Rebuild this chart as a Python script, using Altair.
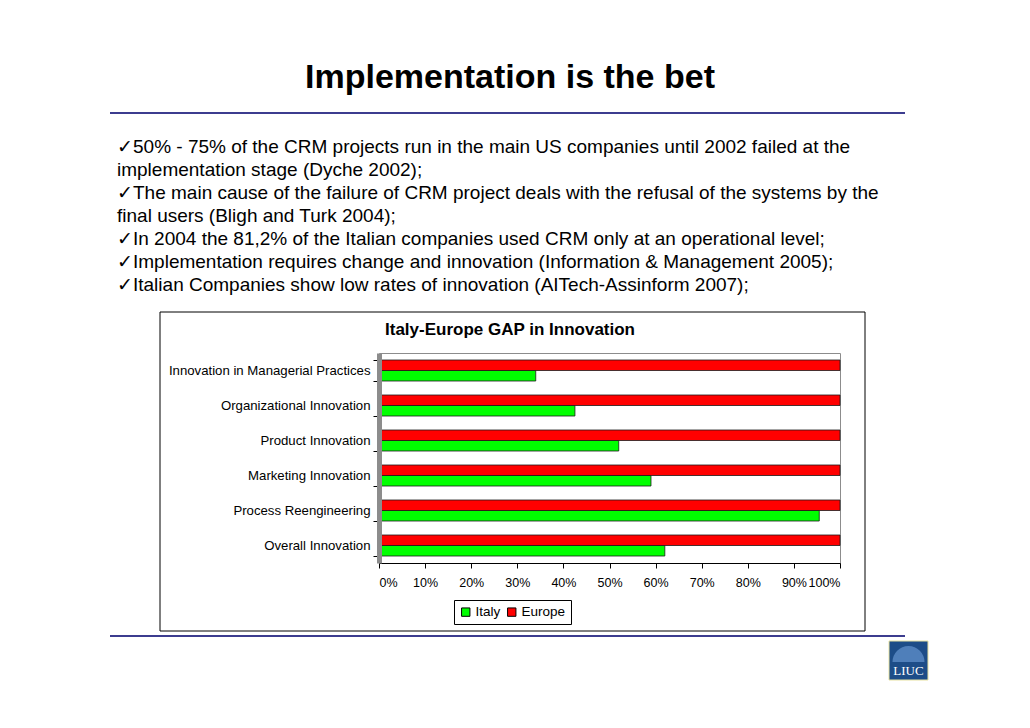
import altair as alt
import pandas as pd

categories = [
    "Innovation in Managerial Practices",
    "Organizational Innovation",
    "Product Innovation",
    "Marketing Innovation",
    "Process Reengineering",
    "Overall Innovation",
]
italy = [34, 42.5, 52, 59, 95.5, 62]
europe = [100, 100, 100, 100, 100, 100]
series = ["Italy", "Europe"]
colors = ["#00ff00", "#ff0000"]

slide_title = "Implementation is the bet"
chart_title = "Italy-Europe GAP in Innovation"
bullets = [
    "\u271350% - 75% of the CRM projects run in the main US companies until 2002 failed at the",
    "implementation stage (Dyche 2002);",
    "\u2713The main cause of the failure of CRM project deals with the refusal of the systems by the",
    "final users (Bligh and Turk 2004);",
    "\u2713In 2004 the 81,2% of the Italian companies used CRM only at an operational level;",
    "\u2713Implementation requires change and innovation (Information & Management 2005);",
    "\u2713Italian Companies show low rates of innovation (AITech-Assinform 2007);",
]

FONT = "Liberation Sans"

rows = []
for c, i_v, e_v in zip(categories, italy, europe):
    rows.append({"category": c, "series": "Italy", "value": i_v})
    rows.append({"category": c, "series": "Europe", "value": e_v})
df = pd.DataFrame(rows)

one = pd.DataFrame({"k": [0]})

bars = alt.Chart(df).mark_bar(stroke="#1a1a1a", strokeWidth=0.8).encode(
    x=alt.X(
        "value:Q",
        scale=alt.Scale(domain=[0, 100], nice=False),
        axis=alt.Axis(
            values=list(range(0, 101, 10)),
            labelExpr="datum.value + '%'",
            title=None,
            grid=False,
            labelFontSize=12.5,
            labelFont=FONT,
            labelColor="black",
            domainColor="black",
            tickColor="black",
            tickSize=5,
            labelPadding=8,
            labelOverlap=False,
            zindex=1,
        ),
    ),
    y=alt.Y(
        "category:N",
        sort=categories,
        scale=alt.Scale(paddingInner=0.4, paddingOuter=0.2),
        axis=alt.Axis(
            title=None,
            labelFontSize=13.2,
            labelFont=FONT,
            labelColor="black",
            labelLimit=400,
            tickColor="black",
            tickSize=6,
            tickBand="extent",
            domainColor="#8c8c8c",
            domainWidth=5,
            labelPadding=3,
            zindex=1,
        ),
    ),
    yOffset=alt.YOffset("series:N", sort=["Europe", "Italy"]),
    color=alt.Color(
        "series:N",
        scale=alt.Scale(domain=series, range=colors),
        legend=alt.Legend(
            title=None,
            orient="none",
            legendX=75,
            legendY=247,
            direction="horizontal",
            symbolType="square",
            symbolSize=70,
            symbolStrokeColor="black",
            symbolStrokeWidth=1,
            labelFontSize=13.5,
            labelFont=FONT,
            labelColor="black",
            strokeColor="black",
            padding=5,
            columnPadding=4,
            labelOffset=3,
        ),
    ),
)

layers = []

# chart frame (no fill)
layers.append(
    alt.Chart(one).mark_rect(filled=False, stroke="black", strokeWidth=1).encode(
        x=alt.value(-219), x2=alt.value(486), y=alt.value(-41), y2=alt.value(278)
    )
)
# slide title
layers.append(
    alt.Chart(one).mark_text(
        text=slide_title, font=FONT, fontSize=34, fontWeight="bold",
        align="center", baseline="middle", color="black",
    ).encode(x=alt.value(131), y=alt.value(-275))
)
# top and bottom rules
for yy in (-240, 283):
    layers.append(
        alt.Chart(one).mark_rule(color="#3c3c8f", strokeWidth=2).encode(
            x=alt.value(-269), x2=alt.value(526), y=alt.value(yy)
        )
    )
# bullets
for i, line in enumerate(bullets):
    layers.append(
        alt.Chart(one).mark_text(
            text=line, font=FONT, fontSize=19, align="left",
            baseline="middle", color="black",
        ).encode(x=alt.value(-262), y=alt.value(-206 + 23 * i))
    )
# chart title
layers.append(
    alt.Chart(one).mark_text(
        text=chart_title, font=FONT, fontSize=17, fontWeight="bold",
        align="center", baseline="middle", color="black",
    ).encode(x=alt.value(131), y=alt.value(-23))
)
layers.append(bars)
# logo
layers.append(
    alt.Chart(one).mark_rect(fill="#1d4d88", stroke="#e8e2a0", strokeWidth=1).encode(
        x=alt.value(510), x2=alt.value(549), y=alt.value(288), y2=alt.value(327)
    )
)
layers.append(
    alt.Chart(one).mark_arc(
        fill="#4f7fba", outerRadius=16, theta=4.712, theta2=7.854
    ).encode(x=alt.value(529.5), y=alt.value(309))
)
layers.append(
    alt.Chart(one).mark_text(
        text="LIUC", font="Liberation Serif", fontSize=13, align="center",
        baseline="middle", color="white",
    ).encode(x=alt.value(529.5), y=alt.value(318))
)

chart = alt.layer(*layers).properties(
    width=461,
    height=210,
    autosize=alt.AutoSizeParams(type="none"),
    padding={"left": 371, "top": 345, "right": 180, "bottom": 150},
    background="white",
).configure_view(stroke="#8c8c8c", strokeWidth=1)

chart.save("out.html", embed_options={"renderer": "svg", "actions": False})
